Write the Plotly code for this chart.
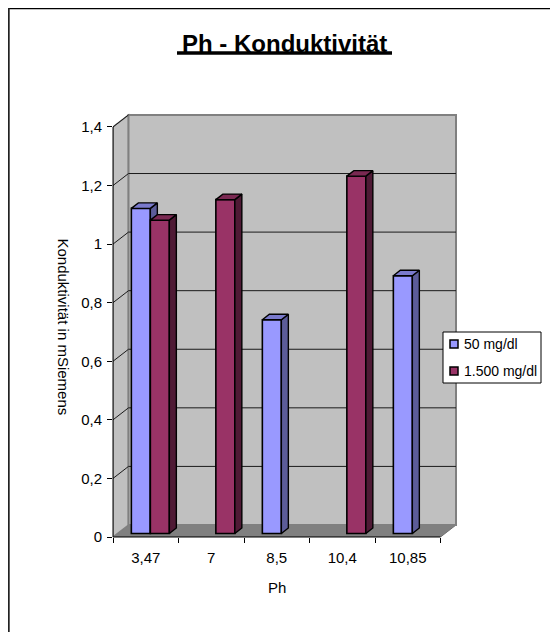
import plotly.graph_objects as go

# ---------------- data ----------------
categories = ["3,47", "7", "8,5", "10,4", "10,85"]
series_names = ["50 mg/dl", "1.500 mg/dl"]
values_50 = [1.11, None, 0.73, None, 0.88]
values_1500 = [1.07, 1.14, None, 1.22, None]
y_ticks = [0, 0.2, 0.4, 0.6, 0.8, 1.0, 1.2, 1.4]
title_text = "Ph - Konduktivität"
x_title = "Ph"
y_title = "Konduktivität in mSiemens"

# ---------------- styling / geometry ----------------
FONT = "Liberation Sans, Arial, sans-serif"
W, H = 558, 632
OFF = 8                      # page body margin
L, T = 113 - OFF, 113 - OFF
PLOT_W, PLOT_H = 345, 424
R = W - L - PLOT_W
B = H - T - PLOT_H
CAT_PX = 65.5      # pixels per category
VAL_PX = 292.9     # pixels per value unit
X_RANGE = [-0.5, -0.5 + PLOT_W / CAT_PX]
Y_RANGE = [0, PLOT_H / VAL_PX]
N = len(categories)
Y_TOP = y_ticks[-1]

DX, DY = 15.5 / CAT_PX, 12 / VAL_PX          # wall depth
BAR_W = 19 / CAT_PX
SHIFT_X, SHIFT_Y = 4.6 / CAT_PX, 3.5 / VAL_PX
BDX, BDY = 7 / CAT_PX, 5.5 / VAL_PX          # bar depth

COL_FRONT = ["#9999FF", "#993366"]
COL_SIDE = ["#5C5C99", "#4F1A35"]
COL_TOP = ["#7A7ACC", "#7A2952"]
OFFSETS = [-BAR_W + SHIFT_X, SHIFT_X]


def fx(px):
    """page pixel x -> paper"""
    return (px - OFF - L) / PLOT_W


def fy(py):
    """page pixel y -> paper"""
    return (T + PLOT_H - (py - OFF)) / PLOT_H


fig = go.Figure()

for s, vals in enumerate([values_50, values_1500]):
    xa = "x" if s == 0 else "x2"
    ya = "y" if s == 0 else "y2"
    fig.add_trace(go.Bar(
        x=list(range(N)), y=vals, base=SHIFT_Y, width=BAR_W, offset=OFFSETS[s],
        name=series_names[s], marker=dict(color=COL_FRONT[s], line=dict(color="black", width=1.6)),
        showlegend=False, xaxis=xa, yaxis=ya,
    ))
    sx, sy, tx, ty = [], [], [], []
    for i, v in enumerate(vals):
        if v is None:
            continue
        xl = i + OFFSETS[s]
        xr = xl + BAR_W
        b = SHIFT_Y
        t = v + SHIFT_Y
        sx += [xr, xr + BDX, xr + BDX, xr, xr, None]
        sy += [b, b + BDY, t + BDY, t, b, None]
        tx += [xl, xr, xr + BDX, xl + BDX, xl, None]
        ty += [t, t, t + BDY, t + BDY, t, None]
    fig.add_trace(go.Scatter(x=sx, y=sy, mode="lines", fill="toself", fillcolor=COL_SIDE[s],
                             line=dict(color="black", width=1.4), showlegend=False,
                             hoverinfo="skip", xaxis=xa, yaxis=ya))
    fig.add_trace(go.Scatter(x=tx, y=ty, mode="lines", fill="toself", fillcolor=COL_TOP[s],
                             line=dict(color="black", width=1.4), showlegend=False,
                             hoverinfo="skip", xaxis=xa, yaxis=ya))

shapes = []
x0, x1 = -0.5, N - 0.5
# floor
shapes.append(dict(type="path", xref="x", yref="y", layer="below",
                   path=f"M{x0},0 L{x1},0 L{x1+DX},{DY} L{x0+DX},{DY} Z",
                   fillcolor="#808080", line=dict(color="#6E6E6E", width=1)))
# left wall
shapes.append(dict(type="path", xref="x", yref="y", layer="below",
                   path=f"M{x0},0 L{x0+DX},{DY} L{x0+DX},{Y_TOP+DY} L{x0},{Y_TOP} Z",
                   fillcolor="#C0C0C0", line=dict(color="#808080", width=1.5)))
# back wall
shapes.append(dict(type="rect", xref="x", yref="y", layer="below",
                   x0=x0 + DX, x1=x1 + DX, y0=DY, y1=Y_TOP + DY,
                   fillcolor="#C0C0C0", line=dict(color="#808080", width=2)))
# gridlines
for t in y_ticks[1:-1]:
    shapes.append(dict(type="line", xref="x", yref="y", layer="below",
                       x0=x0 + DX, x1=x1 + DX, y0=t + DY, y1=t + DY,
                       line=dict(color="#1A1A1A", width=1)))
for t in y_ticks[1:]:
    shapes.append(dict(type="line", xref="x", yref="y", layer="below",
                       x0=x0, x1=x0 + DX, y0=t, y1=t + DY,
                       line=dict(color="#1A1A1A", width=1)))
# axis lines
shapes.append(dict(type="line", xref="paper", yref="y", x0=0, x1=0, y0=0, y1=Y_TOP,
                   line=dict(color="black", width=1)))
shapes.append(dict(type="line", xref="x", yref="paper", x0=x0, x1=x1, y0=0, y1=0,
                   line=dict(color="black", width=1)))
# title underline
shapes.append(dict(type="line", xref="paper", yref="paper", x0=fx(177), x1=fx(392),
                   y0=fy(53), y1=fy(53), line=dict(color="black", width=3.5)))
# outer border (top and left)
shapes.append(dict(type="line", xref="paper", yref="paper", x0=fx(8.5), x1=fx(580),
                   y0=fy(8.5), y1=fy(8.5), line=dict(color="black", width=1.5)))
shapes.append(dict(type="line", xref="paper", yref="paper", x0=fx(8.8), x1=fx(8.8),
                   y0=fy(8), y1=fy(660), line=dict(color="#222222", width=1.8)))
# legend box
shapes.append(dict(type="rect", xref="paper", yref="paper", x0=fx(443), x1=fx(541),
                   y0=fy(383), y1=fy(332), fillcolor="white", line=dict(color="black", width=1)))
leg_y = [344, 371]
for s in range(2):
    shapes.append(dict(type="rect", xref="paper", yref="paper", x0=fx(450), x1=fx(458),
                       y0=fy(leg_y[s] + 4), y1=fy(leg_y[s] - 4), fillcolor=COL_FRONT[s],
                       line=dict(color="black", width=1.5)))

annotations = [
    dict(text=f"<b>{title_text}</b>", x=fx(284.5), y=fy(43), xref="paper", yref="paper",
         showarrow=False, xanchor="center", yanchor="middle", font=dict(size=24, color="black")),
    dict(text=x_title, x=fx(277), y=fy(587), xref="paper", yref="paper", showarrow=False,
         xanchor="center", yanchor="middle", font=dict(size=15, color="black")),
    dict(text=y_title, x=fx(63), y=fy(326.5), xref="paper", yref="paper", showarrow=False,
         textangle=90, xanchor="center", yanchor="middle", font=dict(size=15, color="black")),
]
for s in range(2):
    annotations.append(dict(text=series_names[s], x=fx(462), y=fy(leg_y[s]), xref="paper",
                            yref="paper", showarrow=False, xanchor="left", yanchor="middle",
                            font=dict(size=14, color="black")))

axis_common = dict(showgrid=False, zeroline=False, showline=False)
fig.update_layout(
    width=W, height=H,
    margin=dict(l=L, r=R, t=T, b=B, pad=0),
    paper_bgcolor="white", plot_bgcolor="rgba(0,0,0,0)",
    font=dict(family=FONT, size=15, color="black"),
    separators=",.",
    barmode="overlay",
    showlegend=False,
    xaxis=dict(range=X_RANGE, tickmode="array", tickvals=list(range(N)), ticktext=categories,
               ticks="", ticklabelstandoff=10, tickfont=dict(size=15),
               minor=dict(tickmode="linear", tick0=0.5, dtick=1, ticks="outside", ticklen=5,
                          tickcolor="black", tickwidth=1, showgrid=False),
               fixedrange=True, **axis_common),
    yaxis=dict(range=Y_RANGE, tickmode="array", tickvals=y_ticks, ticks="outside", ticklen=5,
               tickcolor="black", tickwidth=1, tickfont=dict(size=15), ticklabelstandoff=2,
               fixedrange=True, **axis_common),
    xaxis2=dict(range=X_RANGE, overlaying="x", visible=False, fixedrange=True),
    yaxis2=dict(range=Y_RANGE, overlaying="y", visible=False, fixedrange=True),
    shapes=shapes,
    annotations=annotations,
)

fig.write_html("out.html")
